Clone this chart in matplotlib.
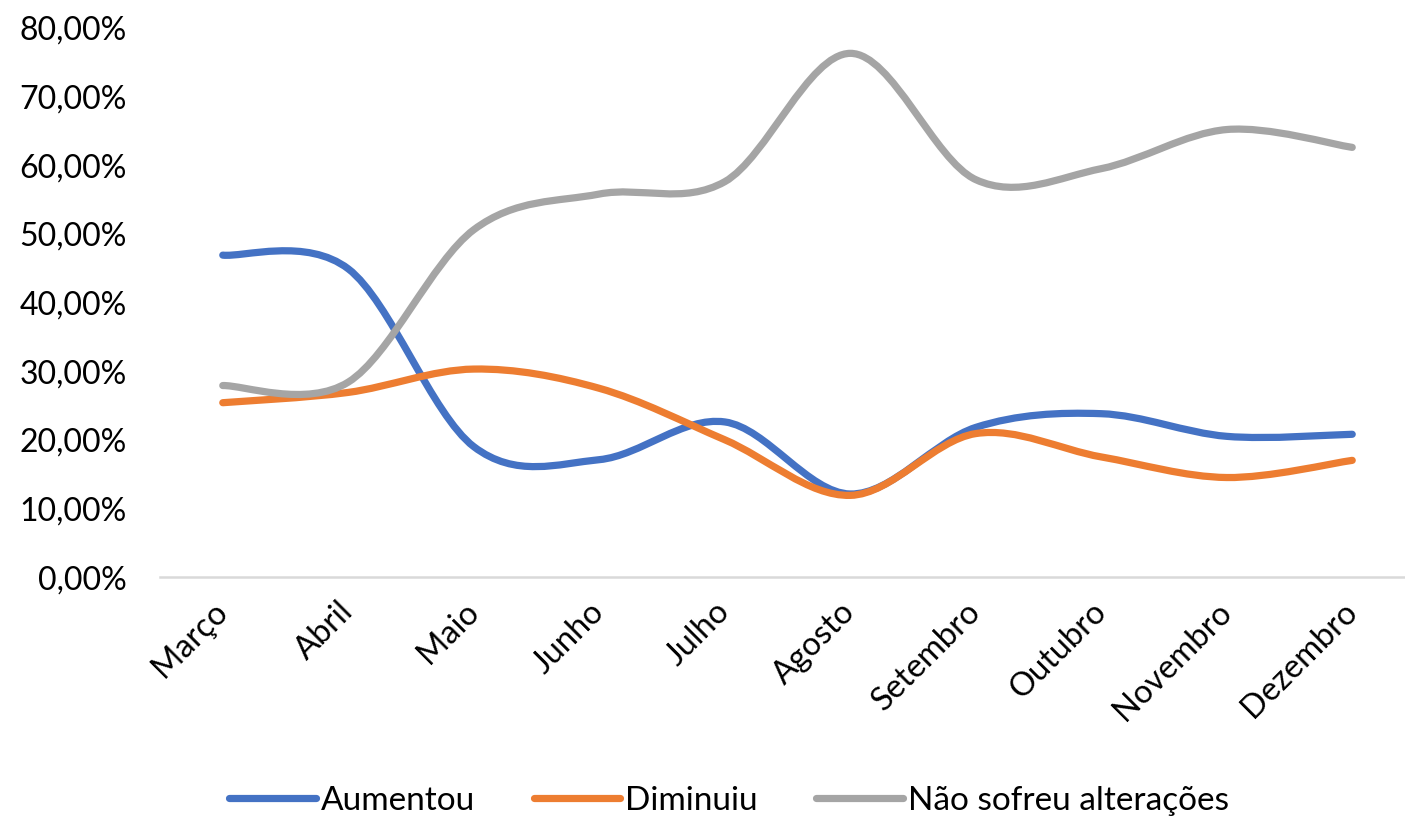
import numpy as np
import matplotlib
matplotlib.use("Agg")
import matplotlib.pyplot as plt
from matplotlib.path import Path
from matplotlib.patches import PathPatch
from matplotlib.lines import Line2D
import matplotlib.ticker as ticker
import matplotlib.transforms as mtransforms

plt.rcParams['font.family'] = ['Lato', 'DejaVu Sans']

months = ['Março', 'Abril', 'Maio', 'Junho', 'Julho', 'Agosto',
          'Setembro', 'Outubro', 'Novembro', 'Dezembro']
aumentou = [46.9, 44.9, 19.0, 17.1, 22.6, 12.1, 21.8, 23.8, 20.5, 20.8]
diminuiu = [25.4, 26.9, 30.3, 27.5, 20.0, 11.9, 20.9, 17.5, 14.5, 17.0]
nao_sofreu = [27.9, 28.4, 50.6, 55.8, 57.6, 76.3, 57.9, 59.5, 65.2, 62.6]

series_names = ['Aumentou', 'Diminuiu', 'Não sofreu alterações']
colors = ['#4472C4', '#ED7D31', '#A5A5A5']

font_size = 23
lw = 5.2


def smooth_path(x, y):
    # bezier segments through every point, like a "smoothed line" chart
    pts = np.column_stack([x, y]).astype(float)
    n = len(pts)
    verts = [pts[0]]
    codes = [Path.MOVETO]
    for i in range(n - 1):
        p0 = pts[max(i - 1, 0)]
        p1 = pts[i]
        p2 = pts[i + 1]
        p3 = pts[min(i + 2, n - 1)]
        c1 = p1 + (p2 - p0) / 6.0
        c2 = p2 - (p3 - p1) / 6.0
        verts += [c1, c2, p2]
        codes += [Path.CURVE4] * 3
    return Path(verts, codes)


fig = plt.figure(figsize=(14.05, 8.22), dpi=100)
ax = fig.add_axes([0.1139, 0.298, 0.8932, 0.668])

t = np.arange(len(months))
for vals, c in zip([aumentou, diminuiu, nao_sofreu], colors):
    patch = PathPatch(smooth_path(t, vals), fill=False, edgecolor=c, lw=lw,
                      capstyle='round', joinstyle='round', clip_on=False)
    ax.add_patch(patch)

ax.set_xlim(-0.5, len(months) - 0.5)
ax.set_ylim(0, 80)
ax.yaxis.set_major_locator(ticker.MultipleLocator(10))
ax.yaxis.set_major_formatter(ticker.FuncFormatter(lambda v, p: f'{v:.2f}%'.replace('.', ',')))
ax.set_xticks(t)
ax.set_xticklabels(months, rotation=45, ha='right', va='top', fontsize=font_size + 0.5)
ax.tick_params(axis='x', length=0, pad=14)
ax.tick_params(axis='y', length=0, pad=24, labelsize=font_size)

# nudge the month labels a little to the right, as in the original
shift = mtransforms.ScaledTranslation(0.11, 0, fig.dpi_scale_trans)
for lab in ax.get_xticklabels():
    lab.set_transform(lab.get_transform() + shift)

for s in ['top', 'right', 'left']:
    ax.spines[s].set_visible(False)
ax.spines['bottom'].set_color('#D9D9D9')
ax.spines['bottom'].set_linewidth(1.8)

handles = [Line2D([0], [0], color=c, lw=lw, solid_capstyle='round') for c in colors]
fig.legend(handles, series_names, loc='center', bbox_to_anchor=(0.519, 0.026),
           ncol=3, frameon=False, fontsize=font_size + 1, handlelength=2.6,
           handletextpad=0.15, columnspacing=1.75, borderpad=0.1)

fig.savefig('out.png', dpi=100)
